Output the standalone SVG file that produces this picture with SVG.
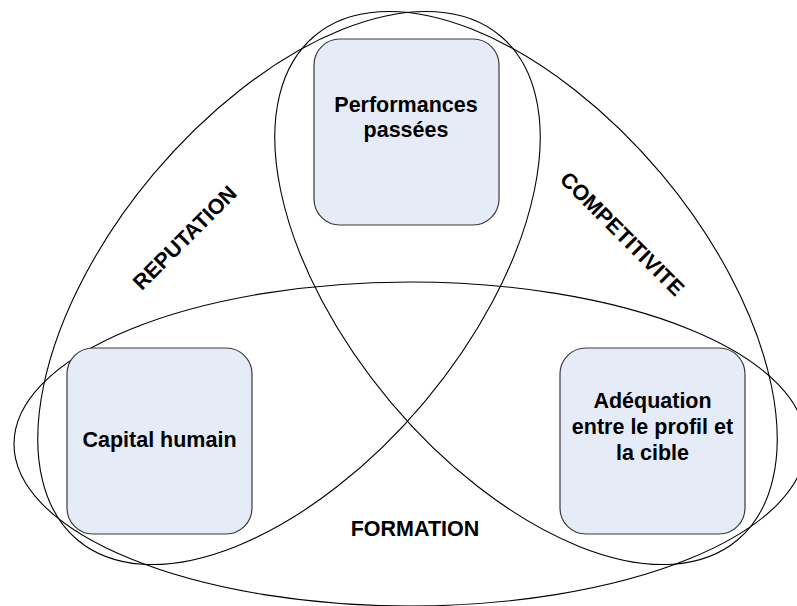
<svg xmlns="http://www.w3.org/2000/svg" width="797" height="606" viewBox="0 0 797 606">
<style>
.set{fill:none;stroke:#000;stroke-width:1.1}
.box{fill:#E6ECF7;stroke:#3a3a3a;stroke-width:1.2}
.t{font-family:"Liberation Sans",Arial,sans-serif;font-weight:bold;font-size:21.5px;fill:#000;text-anchor:middle}
</style>
<rect width="797" height="606" fill="#fff"/>
<g id="sets">
<ellipse id="set-reputation" class="set" cx="289" cy="288" rx="329" ry="177" transform="rotate(-50 289 288)"/>
<ellipse id="set-competitivite" class="set" cx="526" cy="288" rx="329" ry="177" transform="rotate(50 526 288)"/>
<ellipse id="set-formation" class="set" cx="410" cy="444" rx="396" ry="162"/>
</g>
<g id="node-performances">
<rect class="box" x="314" y="39" width="185" height="186" rx="26" ry="26"/>
<text class="t" x="406" y="112">Performances</text>
<text class="t" x="406" y="137">passées</text>
</g>
<g id="node-capital">
<rect class="box" x="67" y="348" width="185" height="186" rx="26" ry="26"/>
<text class="t" x="159.5" y="447">Capital humain</text>
</g>
<g id="node-adequation">
<rect class="box" x="560" y="348" width="185" height="186" rx="26" ry="26"/>
<text class="t" x="652.5" y="408">Adéquation</text>
<text class="t" x="652.5" y="434">entre le profil et</text>
<text class="t" x="652.5" y="460">la cible</text>
</g>
<g id="labels">
<text class="t" x="190" y="243" transform="rotate(-45 190 243)">REPUTATION</text>
<text class="t" x="617" y="239" transform="rotate(45 617 239)">COMPETITIVITE</text>
<text class="t" x="415" y="536">FORMATION</text>
</g>
</svg>
